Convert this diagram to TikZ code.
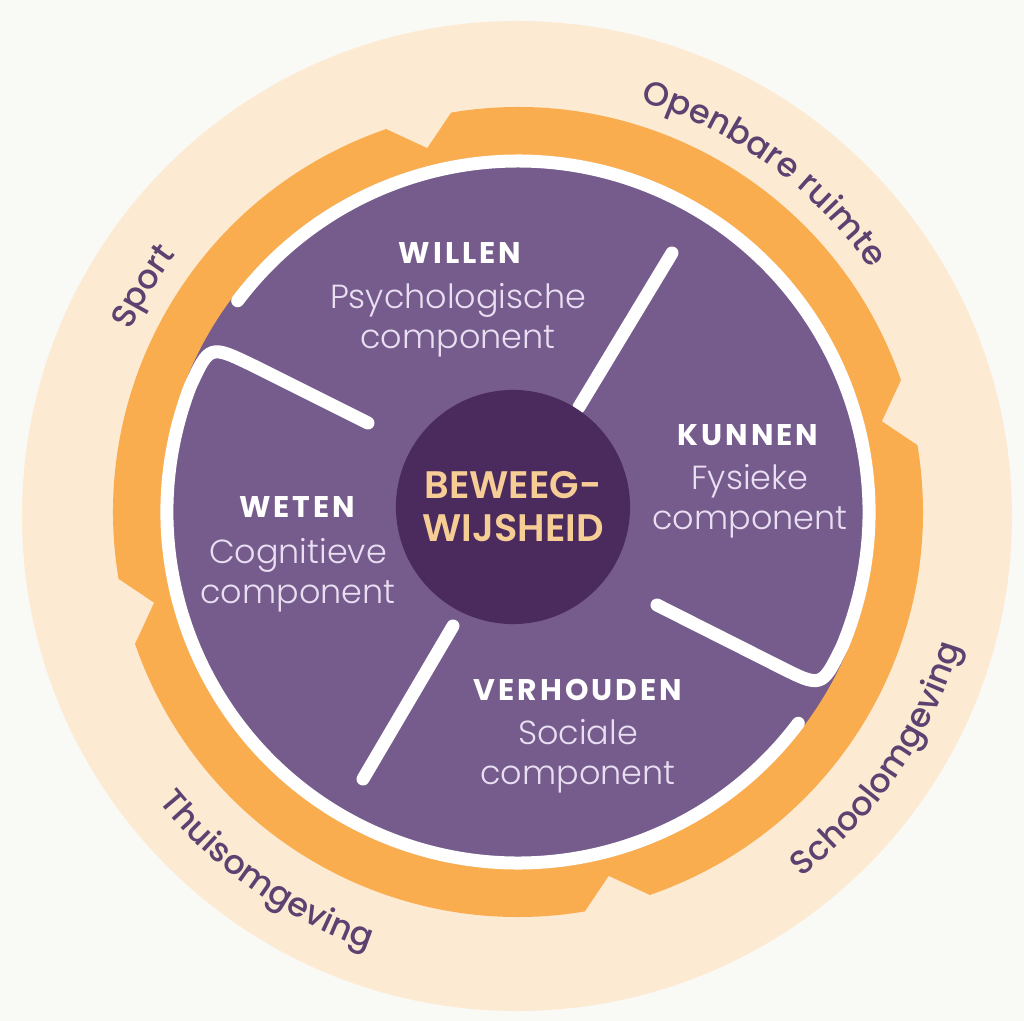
\documentclass[tikz,border=0pt]{standalone}
\usepackage{fontspec}
\setmainfont{Poppins}
\newfontfamily\lightfont{Poppins Light}
\newfontfamily\medfont{Poppins Medium}
\newfontfamily\semifont{Poppins SemiBold}
\newfontfamily\headfont{Poppins}[LetterSpace=10]
\usetikzlibrary{decorations.text}

\definecolor{bgcol}{HTML}{F9F9F5}
\definecolor{creamcol}{HTML}{FDEAD2}
\definecolor{orangecol}{HTML}{F9AD4E}
\definecolor{purplecol}{HTML}{755C8C}
\definecolor{darkcol}{HTML}{4B2B5E}
\definecolor{peachcol}{HTML}{F7CD96}
\definecolor{lavcol}{HTML}{E9DEF2}
\definecolor{outercol}{HTML}{5B4270}

\newcommand{\outerfmt}{\color{outercol}\medfont\fontsize{9.5}{11}\selectfont}

\begin{document}
\begin{tikzpicture}[x=0.01cm, y=0.01cm,
    ring/.style={white, line width=0.13cm, line cap=round},
    head/.style={text=white, inner sep=0pt, font=\headfont\bfseries\fontsize{8.5}{10}\selectfont},
    sub/.style={text=lavcol, inner sep=0pt, align=center, font=\lightfont\fontsize{9.5}{11.4}\selectfont},
    ringtext/.style={decorate, decoration={text along path, text align=center, text={|\outerfmt|#1}}}]
  \useasboundingbox (-518,-509) rectangle (506,512);
  \fill[bgcol] (-518,-509) rectangle (506,512);

  % outer band
  \fill[creamcol] (-1,-4) circle[radius=495];

  % orange band with four notches
  \fill[orangecol] (99.5:405) arc[start angle=99.5, end angle=19, radius=405]
    -- (14:375) -- (9.5:405) arc[start angle=9.5, end angle=-71, radius=405]
    -- (-76:375) -- (-80.5:405) arc[start angle=-80.5, end angle=-161, radius=405]
    -- (-166:375) -- (-170.5:405) arc[start angle=-170.5, end angle=-251, radius=405]
    -- (-256:375) -- cycle;

  % inner disc
  \fill[purplecol] (0,0) circle[radius=357];

  % white dividers
  \draw[ring] (61,105) -- (154,259);
  \draw[ring] (-65,-114) -- (-155,-267);
  \draw[ring] (-150,89) -- (-264,146) .. controls (151.5:351) .. (159:351)
    arc[start angle=159, end angle=323, radius=351];
  \draw[ring] (139,-93) -- (260,-154) .. controls (-30.1:351) .. (-22.5:351)
    arc[start angle=-22.5, end angle=143, radius=351];

  % centre
  \node[circle, fill=darkcol, minimum size=2.34cm, inner sep=0pt, align=center,
    text=peachcol, font=\semifont\fontsize{10.9}{12.2}\selectfont] (core) at (-5,5) {BEWEEG-\\WIJSHEID};

  % quadrants
  \node[head] (willen) at (-58,259) {WILLEN};
  \node[sub] (willensub) at (-60,192) {Psychologische\\component};
  \node[head] (kunnen) at (230,77) {KUNNEN};
  \node[sub] (kunnensub) at (232,11) {Fysieke\\component};
  \node[head] (weten) at (-221,5) {WETEN};
  \node[sub] (wetensub) at (-220,-63) {Cognitieve\\component};
  \node[head] (verhouden) at (60,-178) {VERHOUDEN};
  \node[sub] (verhoudensub) at (60,-244) {Sociale\\component};

  % surroundings
  \path[ringtext={Sport}] (175:428) arc[start angle=175, end angle=123, radius=428];
  \path[ringtext={Openbare ruimte}] (92:428) arc[start angle=92, end angle=16, radius=428];
  \path[ringtext={Schoolomgeving}] (-70:462) arc[start angle=-70, end angle=1, radius=462];
  \path[ringtext={Thuisomgeving}] (200:462) arc[start angle=200, end angle=270, radius=462];
\end{tikzpicture}
\end{document}
